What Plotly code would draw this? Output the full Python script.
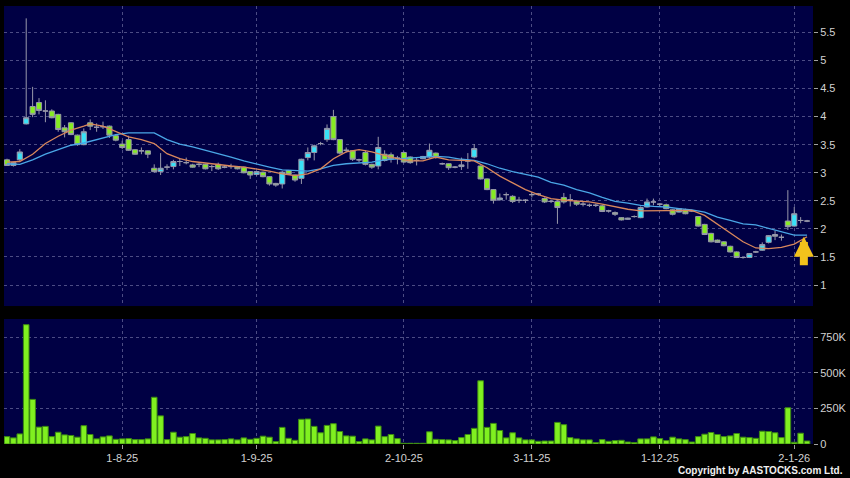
import plotly.graph_objects as go

# ---- data ----
opens = [3.23, 3.13, 3.23, 3.87, 4.18, 4.25, 4.10, 4.10, 4.04, 3.80,
         3.89, 3.67, 3.50, 3.89, 3.81, 3.82, 3.83, 3.66, 3.51, 3.59,
         3.41, 3.39, 3.39, 3.08, 3.02, 3.10, 3.11, 3.20, 3.18, 3.14,
         3.15, 3.15, 3.11, 3.15, 3.10, 3.11, 3.11, 3.10, 3.02, 2.97,
         3.01, 2.93, 2.81, 2.80, 3.04, 2.96, 2.90, 3.27, 3.36, 3.52,
         3.59, 4.00, 3.59, 3.40, 3.39, 3.23, 3.36, 3.15, 3.12, 3.33,
         3.32, 3.26, 3.36, 3.28, 3.22, 3.25, 3.28, 3.35, 3.16, 3.16,
         3.10, 3.11, 3.21, 3.28, 3.12, 2.89, 2.70, 2.52, 2.61, 2.58,
         2.51, 2.51, 2.61, 2.62, 2.54, 2.49, 2.49, 2.56, 2.52, 2.49,
         2.44, 2.42, 2.42, 2.41, 2.32, 2.29, 2.20, 2.17, 2.22, 2.20,
         2.39, 2.48, 2.44, 2.43, 2.34, 2.30, 2.34, 2.32, 2.22, 2.08,
         1.92, 1.80, 1.77, 1.69, 1.59, 1.49, 1.49, 1.59, 1.62, 1.76,
         1.90, 1.85, 2.14, 2.05, 2.15, 2.14]
highs = [3.25, 3.19, 3.42, 5.75, 4.53, 4.33, 4.29, 4.13, 4.05, 3.85,
         3.90, 3.68, 3.79, 3.95, 3.88, 3.91, 3.84, 3.69, 3.57, 3.66,
         3.42, 3.45, 3.40, 3.15, 3.35, 3.15, 3.23, 3.26, 3.27, 3.16,
         3.19, 3.16, 3.14, 3.18, 3.12, 3.16, 3.12, 3.11, 3.03, 3.03,
         3.02, 2.94, 2.82, 3.03, 3.05, 2.97, 3.25, 3.45, 3.50, 3.55,
         3.86, 4.12, 3.60, 3.45, 3.40, 3.25, 3.40, 3.16, 3.64, 3.40,
         3.36, 3.30, 3.38, 3.29, 3.28, 3.30, 3.52, 3.36, 3.18, 3.17,
         3.12, 3.27, 3.35, 3.51, 3.13, 2.90, 2.71, 2.63, 2.65, 2.60,
         2.57, 2.53, 2.65, 2.64, 2.56, 2.52, 2.51, 2.64, 2.62, 2.50,
         2.48, 2.45, 2.45, 2.43, 2.34, 2.31, 2.21, 2.20, 2.24, 2.40,
         2.54, 2.54, 2.46, 2.45, 2.35, 2.37, 2.36, 2.34, 2.23, 2.09,
         1.93, 1.81, 1.78, 1.70, 1.60, 1.50, 1.57, 1.61, 1.76, 1.89,
         1.97, 1.90, 2.69, 2.39, 2.21, 2.16]
lows = [3.12, 3.11, 3.19, 3.86, 3.99, 4.04, 3.90, 3.97, 3.73, 3.63,
        3.67, 3.48, 3.49, 3.76, 3.73, 3.78, 3.62, 3.56, 3.42, 3.39,
        3.32, 3.33, 3.26, 3.00, 2.96, 3.05, 3.06, 3.12, 3.15, 3.09,
        3.10, 3.06, 3.03, 3.05, 3.08, 3.07, 3.06, 2.99, 2.89, 2.95,
        2.92, 2.77, 2.75, 2.72, 2.96, 2.84, 2.80, 3.22, 3.22, 3.49,
        3.55, 3.58, 3.33, 3.36, 3.21, 3.19, 3.13, 3.07, 3.06, 3.20,
        3.18, 3.15, 3.17, 3.16, 3.13, 3.24, 3.26, 3.25, 3.14, 3.05,
        3.08, 3.05, 3.07, 3.26, 2.88, 2.69, 2.45, 2.50, 2.52, 2.46,
        2.46, 2.46, 2.56, 2.59, 2.46, 2.46, 2.09, 2.45, 2.40, 2.41,
        2.40, 2.39, 2.39, 2.30, 2.29, 2.23, 2.15, 2.16, 2.20, 2.19,
        2.38, 2.42, 2.41, 2.35, 2.24, 2.29, 2.26, 2.30, 2.04, 1.89,
        1.76, 1.75, 1.69, 1.58, 1.48, 1.47, 1.48, 1.57, 1.61, 1.74,
        1.80, 1.79, 1.98, 2.04, 2.10, 2.12]
closes = [3.13, 3.18, 3.37, 3.98, 4.04, 4.11, 4.10, 3.98, 3.77, 3.73,
          3.68, 3.50, 3.73, 3.83, 3.81, 3.82, 3.67, 3.58, 3.45, 3.40,
          3.33, 3.39, 3.33, 3.02, 3.08, 3.10, 3.20, 3.20, 3.18, 3.10,
          3.15, 3.07, 3.11, 3.07, 3.10, 3.11, 3.07, 3.00, 2.96, 3.02,
          2.93, 2.80, 2.78, 3.01, 2.97, 2.87, 3.24, 3.36, 3.48, 3.52,
          3.79, 3.59, 3.35, 3.40, 3.24, 3.23, 3.15, 3.10, 3.45, 3.22,
          3.25, 3.26, 3.19, 3.18, 3.22, 3.29, 3.40, 3.27, 3.16, 3.09,
          3.10, 3.14, 3.21, 3.43, 2.89, 2.70, 2.51, 2.55, 2.61, 2.49,
          2.51, 2.51, 2.61, 2.62, 2.48, 2.49, 2.38, 2.48, 2.52, 2.44,
          2.44, 2.42, 2.42, 2.31, 2.32, 2.26, 2.16, 2.19, 2.22, 2.38,
          2.48, 2.48, 2.44, 2.36, 2.26, 2.36, 2.27, 2.32, 2.05, 1.90,
          1.77, 1.76, 1.70, 1.59, 1.49, 1.49, 1.56, 1.59, 1.72, 1.88,
          1.87, 1.85, 2.04, 2.27, 2.15, 2.14]
volumes_k = [52, 43, 71, 840, 314, 119, 124, 52, 83, 64,
             60, 48, 129, 67, 36, 50, 57, 33, 36, 38,
             31, 31, 36, 329, 198, 31, 83, 48, 52, 74,
             43, 40, 29, 29, 31, 36, 29, 43, 33, 40,
             55, 48, 17, 117, 40, 26, 174, 176, 124, 79,
             131, 143, 88, 57, 55, 17, 36, 29, 126, 52,
             67, 38, 5, 5, 5, 5, 86, 33, 31, 29,
             24, 45, 67, 110, 445, 117, 145, 95, 43, 79,
             43, 29, 29, 19, 21, 21, 152, 136, 45, 36,
             29, 29, 10, 31, 19, 24, 26, 14, 10, 36,
             36, 50, 38, 24, 48, 36, 31, 14, 52, 69,
             81, 67, 52, 57, 74, 48, 45, 40, 90, 88,
             79, 45, 255, 12, 76, 21]

# moving-average lines, read at every other bar
ma_idx = [0, 2, 4, 6, 8, 10, 12, 13, 15, 17, 19, 21, 23, 25, 27, 29, 31, 33, 35,
          37, 39, 41, 43, 45, 47, 49, 51, 53, 55, 57, 59, 61, 63, 65, 67, 69, 71,
          73, 75, 77, 79, 81, 83, 85, 87, 89, 91, 93, 95, 97, 99, 101, 103, 105,
          107, 109, 111, 113, 115, 117, 119, 121, 123, 125]
ma_short = [3.19, 3.20, 3.33, 3.52, 3.65, 3.76, 3.83, 3.87, 3.83, 3.73, 3.64,
            3.59, 3.52, 3.34, 3.25, 3.20, 3.17, 3.14, 3.12, 3.10, 3.07, 3.03,
            2.98, 2.95, 2.98, 3.07, 3.25, 3.37, 3.41, 3.37, 3.31, 3.25, 3.21,
            3.21, 3.28, 3.23, 3.22, 3.21, 3.09, 2.94, 2.82, 2.70, 2.61, 2.54,
            2.51, 2.49, 2.48, 2.44, 2.39, 2.35, 2.32, 2.32, 2.32, 2.33, 2.33,
            2.24, 2.08, 1.92, 1.77, 1.66, 1.65, 1.67, 1.73, 1.86]
ma_long = [3.16, 3.15, 3.23, 3.33, 3.41, 3.49, 3.53, 3.56, 3.63, 3.68, 3.71,
           3.71, 3.71, 3.59, 3.51, 3.46, 3.40, 3.35, 3.28, 3.21, 3.15, 3.10,
           3.05, 3.04, 3.03, 3.07, 3.13, 3.16, 3.17, 3.19, 3.23, 3.25, 3.27,
           3.28, 3.29, 3.28, 3.24, 3.22, 3.16, 3.08, 3.02, 2.97, 2.92, 2.83,
           2.78, 2.70, 2.64, 2.56, 2.49, 2.46, 2.42, 2.40, 2.39, 2.36, 2.34,
           2.30, 2.21, 2.15, 2.09, 2.07, 2.01, 1.95, 1.89, 1.89]

tick_idx = [18, 39, 62, 82, 102, 123]
tick_labels = ["1-8-25", "1-9-25", "2-10-25", "3-11-25", "1-12-25", "2-1-26"]
price_ticks = [1, 1.5, 2, 2.5, 3, 3.5, 4, 4.5, 5, 5.5]
price_tick_labels = ["1", "1.5", "2", "2.5", "3", "3.5", "4", "4.5", "5", "5.5"]
vol_ticks = [0, 250000, 500000, 750000]
vol_tick_labels = ["0", "250K", "500K", "750K"]

idx = list(range(len(opens)))
volumes = [v * 1000 for v in volumes_k]

GRID = "#4c4c84"
TXT = "#d2d2d2"
FONT = "Liberation Sans"

fig = go.Figure()
fig.add_trace(go.Scatter(x=ma_idx, y=ma_long, mode="lines",
                         line=dict(color="#4aa6e6", width=1.3),
                         xaxis="x", yaxis="y", hoverinfo="skip"))
fig.add_trace(go.Scatter(x=ma_idx, y=ma_short, mode="lines",
                         line=dict(color="#d9875c", width=1.3),
                         xaxis="x", yaxis="y", hoverinfo="skip"))
fig.add_trace(go.Candlestick(
    x=idx, open=opens, high=highs, low=lows, close=closes,
    increasing=dict(fillcolor="#38e2f8", line=dict(color="#9898aa", width=1)),
    decreasing=dict(fillcolor="#86ec22", line=dict(color="#9898aa", width=1)),
    whiskerwidth=0, xaxis="x", yaxis="y"))
fig.add_trace(go.Bar(x=idx, y=volumes, marker=dict(color="#80f020",
                     line=dict(color="#3c8a12", width=1)),
                     xaxis="x2", yaxis="y2"))

fig.add_annotation(x=124.5, y=1.86, xref="x", yref="y", ax=0, ay=30,
                   showarrow=True, arrowhead=2, arrowsize=0.5, arrowwidth=8,
                   arrowcolor="#f2c21c", text="")
fig.add_annotation(x=1.04, y=-0.06, xref="paper", yref="paper",
                   xanchor="right", yanchor="middle", showarrow=False,
                   text="<b>Copyright by AASTOCKS.com Ltd.</b>",
                   font=dict(family=FONT, size=10, color="#f0f0f0"))

axis_common = dict(showgrid=True, gridcolor=GRID, griddash="3px,3px", gridwidth=1,
                   zeroline=False, showline=False, automargin=False)

fig.update_layout(
    width=850, height=478,
    margin=dict(l=4, r=37, t=6, b=34, autoexpand=False),
    paper_bgcolor="#000000", plot_bgcolor="#000044",
    showlegend=False, bargap=0.12, boxgap=0.2, boxgroupgap=0, hovermode=False,
    xaxis=dict(domain=[0, 1], anchor="y", range=[-0.47, 125.93],
               tickvals=tick_idx, showticklabels=False, ticks="",
               rangeslider=dict(visible=False), **axis_common),
    xaxis2=dict(domain=[0, 1], anchor="y2", range=[-0.47, 125.93],
                tickvals=tick_idx, ticktext=tick_labels, ticks="outside",
                ticklen=4, tickcolor="#a0a0a0",
                tickfont=dict(family=FONT, size=11, color=TXT), **axis_common),
    yaxis=dict(domain=[0.315, 1], anchor="x", side="right", range=[0.626, 5.97],
               tickvals=price_ticks, ticktext=price_tick_labels, ticks="outside",
               ticklen=4, tickcolor="#a0a0a0",
               tickfont=dict(family=FONT, size=11, color=TXT), **axis_common),
    yaxis2=dict(domain=[0, 0.2854], anchor="x2", side="right", range=[0, 880000],
                tickvals=vol_ticks, ticktext=vol_tick_labels, ticks="outside",
                ticklen=4, tickcolor="#a0a0a0",
                tickfont=dict(family=FONT, size=11, color=TXT), **axis_common),
)

fig.write_html("out.html", config={"displayModeBar": False},
               post_script="document.body.style.margin='0';"
                           "document.body.style.background='#000000';")
